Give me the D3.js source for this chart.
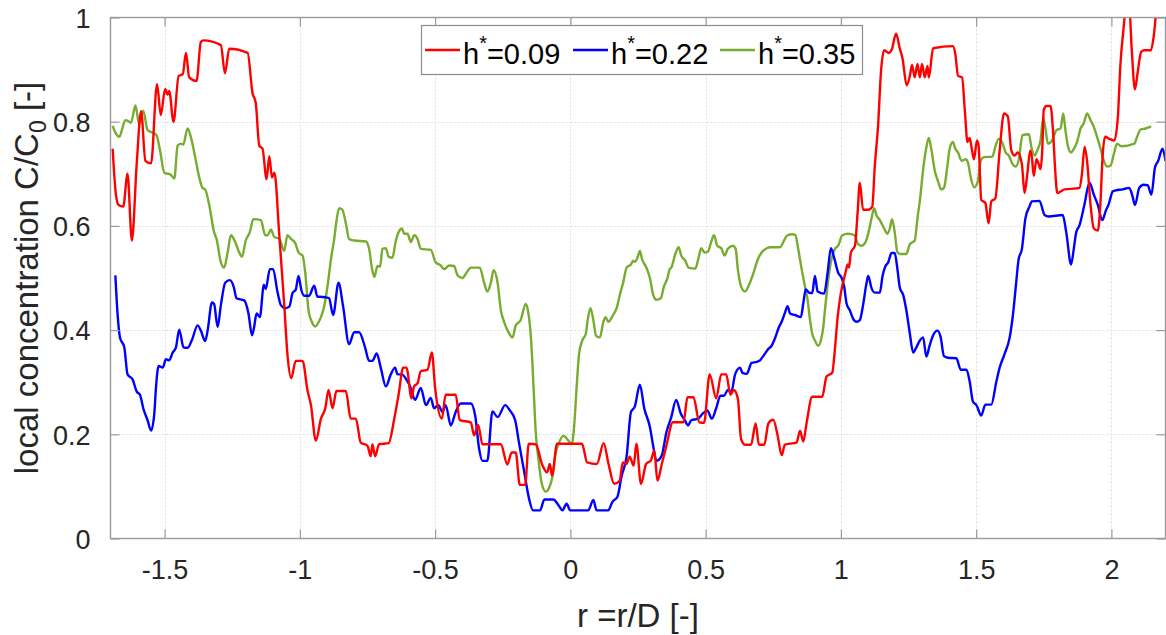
<!DOCTYPE html>
<html>
<head>
<meta charset="utf-8">
<script src="https://d3js.org/d3.v7.min.js"></script>
<style>
  body { margin: 0; background: #fff; }
  svg { display: block; font-family: "Liberation Sans", Arial, Helvetica, sans-serif; }
</style>
</head>
<body>
<svg id="chart" width="1166" height="635"></svg>
<script>
// local concentration profiles, [r/D, C/C0]
const red09 = [[-1.692,0.748],[-1.680,0.660],[-1.670,0.640],[-1.653,0.637],[-1.637,0.700],[-1.621,0.572],[-1.603,0.720],[-1.587,0.820],[-1.571,0.725],[-1.550,0.720],[-1.528,0.872],[-1.514,0.813],[-1.498,0.863],[-1.489,0.852],[-1.483,0.859],[-1.467,0.800],[-1.448,0.888],[-1.433,0.891],[-1.421,0.932],[-1.409,0.885],[-1.382,0.878],[-1.366,0.953],[-1.357,0.956],[-1.292,0.947],[-1.277,0.893],[-1.261,0.940],[-1.193,0.932],[-1.175,0.855],[-1.163,0.836],[-1.150,0.754],[-1.138,0.748],[-1.123,0.690],[-1.113,0.734],[-1.103,0.693],[-1.094,0.702],[-1.076,0.582],[-1.058,0.451],[-1.046,0.354],[-1.032,0.308],[-1.015,0.341],[-0.990,0.341],[-0.972,0.285],[-0.959,0.256],[-0.941,0.188],[-0.922,0.230],[-0.906,0.250],[-0.894,0.285],[-0.879,0.250],[-0.865,0.283],[-0.830,0.283],[-0.812,0.230],[-0.793,0.230],[-0.775,0.184],[-0.750,0.178],[-0.738,0.158],[-0.732,0.181],[-0.722,0.158],[-0.707,0.181],[-0.672,0.183],[-0.651,0.230],[-0.635,0.276],[-0.618,0.328],[-0.606,0.328],[-0.587,0.269],[-0.578,0.292],[-0.565,0.298],[-0.553,0.321],[-0.528,0.324],[-0.512,0.357],[-0.500,0.289],[-0.475,0.230],[-0.461,0.276],[-0.424,0.276],[-0.409,0.227],[-0.368,0.223],[-0.356,0.198],[-0.341,0.218],[-0.325,0.181],[-0.257,0.181],[-0.233,0.142],[-0.217,0.165],[-0.202,0.165],[-0.187,0.103],[-0.167,0.103],[-0.154,0.182],[-0.128,0.181],[-0.105,0.143],[-0.086,0.127],[-0.076,0.143],[-0.068,0.121],[-0.049,0.182],[0.043,0.182],[0.062,0.146],[0.098,0.143],[0.123,0.183],[0.141,0.143],[0.162,0.105],[0.182,0.111],[0.194,0.146],[0.207,0.143],[0.219,0.157],[0.234,0.140],[0.244,0.182],[0.261,0.105],[0.280,0.143],[0.298,0.150],[0.310,0.169],[0.322,0.111],[0.338,0.143],[0.354,0.176],[0.379,0.223],[0.418,0.223],[0.433,0.271],[0.455,0.271],[0.477,0.223],[0.494,0.222],[0.515,0.315],[0.539,0.269],[0.558,0.315],[0.576,0.315],[0.592,0.276],[0.604,0.285],[0.619,0.269],[0.631,0.191],[0.646,0.180],[0.668,0.180],[0.685,0.221],[0.697,0.180],[0.717,0.180],[0.732,0.221],[0.750,0.228],[0.766,0.198],[0.781,0.160],[0.793,0.180],[0.812,0.182],[0.836,0.184],[0.849,0.207],[0.861,0.186],[0.873,0.221],[0.894,0.272],[0.931,0.272],[0.947,0.311],[0.968,0.318],[0.978,0.364],[0.988,0.425],[1.000,0.471],[1.017,0.510],[1.025,0.526],[1.030,0.520],[1.037,0.549],[1.052,0.562],[1.062,0.627],[1.070,0.683],[1.082,0.631],[1.101,0.631],[1.116,0.637],[1.125,0.712],[1.138,0.797],[1.148,0.894],[1.160,0.937],[1.177,0.932],[1.189,0.940],[1.204,0.969],[1.218,0.940],[1.228,0.921],[1.243,0.870],[1.255,0.888],[1.263,0.909],[1.273,0.885],[1.283,0.911],[1.292,0.885],[1.300,0.911],[1.310,0.885],[1.320,0.907],[1.325,0.885],[1.341,0.941],[1.414,0.945],[1.423,0.930],[1.433,0.888],[1.448,0.885],[1.458,0.823],[1.468,0.761],[1.476,0.769],[1.482,0.754],[1.492,0.728],[1.503,0.764],[1.509,0.754],[1.519,0.650],[1.534,0.644],[1.546,0.605],[1.556,0.647],[1.571,0.653],[1.587,0.745],[1.603,0.816],[1.617,0.810],[1.630,0.745],[1.642,0.735],[1.654,0.741],[1.669,0.719],[1.679,0.663],[1.689,0.699],[1.700,0.745],[1.706,0.732],[1.713,0.696],[1.723,0.728],[1.731,0.719],[1.738,0.709],[1.744,0.741],[1.750,0.823],[1.760,0.830],[1.775,0.830],[1.784,0.784],[1.792,0.709],[1.800,0.663],[1.812,0.666],[1.827,0.670],[1.870,0.672],[1.882,0.673],[1.891,0.699],[1.901,0.752],[1.910,0.725],[1.923,0.640],[1.935,0.595],[1.950,0.591],[1.959,0.640],[1.968,0.738],[1.977,0.771],[1.993,0.767],[2.011,0.764],[2.024,0.810],[2.033,0.907],[2.045,0.979],[2.054,1.020],[2.066,1.020],[2.075,0.940],[2.087,0.862],[2.097,0.894],[2.110,0.934],[2.122,0.937],[2.146,0.937],[2.157,0.966],[2.169,1.020],[2.200,1.020]];

const blue22 = [[-1.682,0.505],[-1.674,0.432],[-1.665,0.386],[-1.649,0.367],[-1.637,0.315],[-1.618,0.305],[-1.603,0.282],[-1.591,0.276],[-1.579,0.250],[-1.563,0.227],[-1.550,0.207],[-1.538,0.240],[-1.532,0.289],[-1.522,0.331],[-1.507,0.328],[-1.495,0.344],[-1.483,0.342],[-1.470,0.357],[-1.458,0.367],[-1.446,0.401],[-1.430,0.367],[-1.415,0.366],[-1.399,0.381],[-1.378,0.409],[-1.366,0.399],[-1.350,0.379],[-1.341,0.399],[-1.325,0.453],[-1.317,0.450],[-1.304,0.406],[-1.292,0.448],[-1.276,0.491],[-1.259,0.496],[-1.245,0.484],[-1.234,0.461],[-1.206,0.457],[-1.190,0.432],[-1.177,0.390],[-1.169,0.406],[-1.160,0.432],[-1.148,0.425],[-1.133,0.487],[-1.126,0.479],[-1.111,0.517],[-1.099,0.517],[-1.083,0.474],[-1.070,0.448],[-1.054,0.442],[-1.039,0.445],[-1.027,0.471],[-1.015,0.478],[-1.005,0.504],[-0.995,0.478],[-0.984,0.466],[-0.966,0.466],[-0.947,0.485],[-0.935,0.464],[-0.926,0.464],[-0.906,0.463],[-0.892,0.461],[-0.877,0.429],[-0.857,0.491],[-0.840,0.445],[-0.818,0.373],[-0.799,0.396],[-0.781,0.396],[-0.759,0.367],[-0.744,0.341],[-0.732,0.341],[-0.716,0.355],[-0.701,0.328],[-0.682,0.292],[-0.664,0.315],[-0.648,0.328],[-0.639,0.315],[-0.623,0.315],[-0.606,0.305],[-0.590,0.289],[-0.574,0.266],[-0.553,0.289],[-0.534,0.256],[-0.516,0.270],[-0.504,0.250],[-0.488,0.256],[-0.473,0.243],[-0.461,0.256],[-0.442,0.217],[-0.424,0.243],[-0.405,0.259],[-0.368,0.259],[-0.352,0.236],[-0.337,0.171],[-0.325,0.149],[-0.307,0.149],[-0.288,0.244],[-0.269,0.233],[-0.241,0.256],[-0.224,0.246],[-0.204,0.227],[-0.190,0.184],[-0.171,0.129],[-0.153,0.077],[-0.138,0.054],[-0.112,0.054],[-0.096,0.075],[-0.063,0.075],[-0.044,0.064],[-0.029,0.054],[-0.014,0.067],[-0.001,0.054],[0.066,0.054],[0.085,0.074],[0.097,0.054],[0.140,0.054],[0.155,0.070],[0.174,0.080],[0.189,0.119],[0.208,0.158],[0.224,0.243],[0.238,0.253],[0.257,0.295],[0.273,0.250],[0.294,0.214],[0.306,0.178],[0.318,0.149],[0.337,0.158],[0.355,0.204],[0.373,0.233],[0.391,0.266],[0.408,0.240],[0.423,0.227],[0.435,0.217],[0.447,0.227],[0.472,0.230],[0.490,0.240],[0.506,0.246],[0.523,0.230],[0.539,0.250],[0.555,0.274],[0.568,0.274],[0.582,0.285],[0.595,0.282],[0.609,0.315],[0.627,0.328],[0.636,0.318],[0.652,0.316],[0.670,0.337],[0.689,0.339],[0.701,0.342],[0.713,0.350],[0.732,0.364],[0.744,0.370],[0.759,0.388],[0.771,0.406],[0.781,0.416],[0.793,0.433],[0.803,0.446],[0.812,0.432],[0.830,0.429],[0.852,0.425],[0.861,0.451],[0.870,0.478],[0.882,0.472],[0.894,0.471],[0.904,0.504],[0.914,0.474],[0.938,0.470],[0.951,0.510],[0.963,0.557],[0.975,0.539],[0.990,0.510],[1.003,0.500],[1.012,0.484],[1.021,0.451],[1.033,0.438],[1.045,0.422],[1.058,0.416],[1.070,0.419],[1.082,0.448],[1.095,0.491],[1.101,0.504],[1.113,0.481],[1.125,0.472],[1.144,0.472],[1.154,0.504],[1.165,0.523],[1.175,0.530],[1.187,0.548],[1.199,0.548],[1.209,0.517],[1.218,0.481],[1.230,0.468],[1.242,0.438],[1.255,0.393],[1.267,0.357],[1.279,0.367],[1.292,0.380],[1.304,0.386],[1.316,0.349],[1.328,0.370],[1.341,0.390],[1.357,0.399],[1.369,0.386],[1.381,0.350],[1.396,0.347],[1.427,0.346],[1.443,0.324],[1.464,0.324],[1.476,0.302],[1.488,0.263],[1.501,0.256],[1.519,0.236],[1.534,0.257],[1.556,0.257],[1.575,0.302],[1.587,0.328],[1.605,0.354],[1.624,0.386],[1.636,0.429],[1.648,0.491],[1.657,0.536],[1.669,0.555],[1.682,0.614],[1.697,0.637],[1.706,0.647],[1.734,0.648],[1.753,0.621],[1.768,0.618],[1.820,0.621],[1.833,0.588],[1.851,0.526],[1.861,0.556],[1.870,0.588],[1.882,0.601],[1.900,0.640],[1.919,0.683],[1.935,0.660],[1.950,0.640],[1.966,0.611],[1.980,0.630],[1.989,0.640],[2.005,0.666],[2.016,0.668],[2.041,0.670],[2.066,0.673],[2.078,0.657],[2.087,0.640],[2.103,0.673],[2.119,0.679],[2.134,0.678],[2.148,0.660],[2.161,0.712],[2.173,0.725],[2.189,0.748],[2.200,0.725]];

const green35 = [[-1.692,0.792],[-1.682,0.779],[-1.667,0.771],[-1.658,0.784],[-1.645,0.803],[-1.637,0.802],[-1.624,0.798],[-1.608,0.831],[-1.594,0.795],[-1.579,0.821],[-1.563,0.784],[-1.544,0.779],[-1.530,0.774],[-1.517,0.745],[-1.501,0.702],[-1.477,0.698],[-1.464,0.691],[-1.452,0.754],[-1.440,0.758],[-1.431,0.756],[-1.415,0.787],[-1.403,0.771],[-1.387,0.732],[-1.372,0.693],[-1.360,0.673],[-1.350,0.670],[-1.335,0.640],[-1.317,0.588],[-1.308,0.575],[-1.292,0.530],[-1.280,0.520],[-1.267,0.549],[-1.255,0.582],[-1.239,0.569],[-1.224,0.549],[-1.214,0.541],[-1.200,0.572],[-1.185,0.588],[-1.172,0.613],[-1.144,0.611],[-1.128,0.582],[-1.119,0.582],[-1.107,0.593],[-1.095,0.579],[-1.076,0.575],[-1.058,0.552],[-1.046,0.582],[-1.033,0.575],[-1.017,0.567],[-1.005,0.549],[-0.990,0.543],[-0.980,0.510],[-0.968,0.438],[-0.956,0.416],[-0.943,0.407],[-0.931,0.415],[-0.922,0.425],[-0.910,0.446],[-0.897,0.487],[-0.885,0.536],[-0.873,0.575],[-0.865,0.608],[-0.855,0.634],[-0.843,0.631],[-0.830,0.605],[-0.818,0.575],[-0.799,0.572],[-0.756,0.570],[-0.744,0.556],[-0.734,0.520],[-0.725,0.502],[-0.713,0.523],[-0.703,0.522],[-0.695,0.556],[-0.682,0.557],[-0.672,0.541],[-0.658,0.539],[-0.645,0.572],[-0.633,0.590],[-0.623,0.595],[-0.614,0.585],[-0.602,0.585],[-0.590,0.569],[-0.577,0.582],[-0.565,0.575],[-0.553,0.556],[-0.516,0.554],[-0.498,0.530],[-0.479,0.524],[-0.467,0.517],[-0.448,0.524],[-0.430,0.523],[-0.417,0.505],[-0.399,0.500],[-0.384,0.510],[-0.368,0.520],[-0.335,0.520],[-0.319,0.491],[-0.307,0.474],[-0.294,0.491],[-0.284,0.515],[-0.269,0.491],[-0.257,0.438],[-0.245,0.416],[-0.229,0.396],[-0.214,0.386],[-0.202,0.409],[-0.184,0.419],[-0.165,0.450],[-0.155,0.432],[-0.145,0.380],[-0.136,0.289],[-0.128,0.204],[-0.118,0.152],[-0.106,0.106],[-0.091,0.090],[-0.079,0.097],[-0.066,0.119],[-0.054,0.165],[-0.042,0.184],[-0.026,0.197],[-0.007,0.188],[0.005,0.181],[0.015,0.223],[0.023,0.289],[0.032,0.354],[0.044,0.380],[0.057,0.393],[0.064,0.419],[0.074,0.442],[0.085,0.419],[0.095,0.389],[0.109,0.386],[0.122,0.416],[0.130,0.425],[0.140,0.416],[0.158,0.429],[0.171,0.442],[0.183,0.468],[0.195,0.491],[0.208,0.520],[0.224,0.526],[0.232,0.533],[0.238,0.531],[0.248,0.539],[0.257,0.552],[0.265,0.536],[0.281,0.520],[0.294,0.500],[0.306,0.468],[0.318,0.458],[0.334,0.461],[0.346,0.484],[0.359,0.500],[0.367,0.517],[0.373,0.520],[0.388,0.546],[0.400,0.559],[0.410,0.543],[0.425,0.533],[0.437,0.520],[0.462,0.518],[0.474,0.539],[0.484,0.557],[0.496,0.549],[0.509,0.551],[0.521,0.570],[0.531,0.582],[0.543,0.562],[0.558,0.557],[0.570,0.543],[0.582,0.556],[0.601,0.562],[0.611,0.556],[0.619,0.517],[0.631,0.484],[0.646,0.474],[0.658,0.484],[0.677,0.510],[0.693,0.536],[0.707,0.549],[0.726,0.557],[0.738,0.559],[0.775,0.559],[0.793,0.575],[0.803,0.582],[0.820,0.584],[0.832,0.582],[0.842,0.556],[0.855,0.517],[0.867,0.484],[0.877,0.458],[0.886,0.419],[0.894,0.393],[0.904,0.380],[0.916,0.370],[0.926,0.380],[0.935,0.406],[0.941,0.438],[0.951,0.487],[0.963,0.530],[0.978,0.556],[0.990,0.562],[1.005,0.582],[1.027,0.585],[1.050,0.582],[1.064,0.565],[1.076,0.562],[1.091,0.569],[1.101,0.585],[1.113,0.614],[1.123,0.634],[1.131,0.621],[1.144,0.611],[1.160,0.595],[1.172,0.585],[1.181,0.595],[1.189,0.613],[1.199,0.588],[1.209,0.549],[1.221,0.546],[1.242,0.546],[1.255,0.565],[1.273,0.572],[1.283,0.614],[1.293,0.653],[1.304,0.708],[1.316,0.751],[1.325,0.769],[1.335,0.745],[1.347,0.706],[1.359,0.686],[1.371,0.670],[1.381,0.673],[1.393,0.712],[1.402,0.748],[1.414,0.761],[1.423,0.748],[1.433,0.741],[1.446,0.725],[1.462,0.728],[1.471,0.719],[1.480,0.693],[1.493,0.674],[1.505,0.683],[1.517,0.725],[1.529,0.732],[1.560,0.733],[1.572,0.754],[1.584,0.767],[1.597,0.759],[1.609,0.741],[1.621,0.735],[1.634,0.719],[1.646,0.714],[1.658,0.728],[1.671,0.774],[1.695,0.776],[1.704,0.752],[1.716,0.735],[1.726,0.745],[1.738,0.764],[1.748,0.807],[1.757,0.784],[1.765,0.758],[1.781,0.764],[1.797,0.784],[1.812,0.787],[1.822,0.816],[1.830,0.784],[1.839,0.754],[1.851,0.741],[1.861,0.748],[1.873,0.761],[1.886,0.787],[1.898,0.797],[1.910,0.816],[1.923,0.803],[1.935,0.790],[1.947,0.771],[1.960,0.748],[1.972,0.725],[1.984,0.714],[1.997,0.716],[2.009,0.738],[2.021,0.758],[2.036,0.753],[2.085,0.758],[2.095,0.771],[2.108,0.785],[2.126,0.787],[2.147,0.791]];

const seriesNames = ["0.09", "0.22", "0.35"];
const seriesColors = ["#ff0000", "#0000ff", "#77ac30"];
const xTicks = [-1.5, -1, -0.5, 0, 0.5, 1, 1.5, 2];
const xTickLabels = ["-1.5", "-1", "-0.5", "0", "0.5", "1", "1.5", "2"];
const yTicks = [0, 0.2, 0.4, 0.6, 0.8, 1];
const yTickLabels = ["0", "0.2", "0.4", "0.6", "0.8", "1"];

const svg = d3.select("#chart");
const plotL = 110.5, plotR = 1165.5, plotT = 17.5, plotB = 538.5;

const x = d3.scaleLinear().domain([-1.7, 2.2]).range([plotL, plotR]);
const y = d3.scaleLinear().domain([0, 1]).range([plotB, plotT]);

// grid
const grid = svg.append("g").attr("stroke", "#dedede").attr("stroke-width", 1).attr("stroke-dasharray", "2,2");
grid.selectAll(".gx").data(xTicks).join("line")
  .attr("x1", d => Math.round(x(d)) + 0.5).attr("x2", d => Math.round(x(d)) + 0.5)
  .attr("y1", plotT).attr("y2", plotB);
grid.selectAll(".gy").data(yTicks.slice(1, -1)).join("line")
  .attr("y1", d => Math.round(y(d)) + 0.5).attr("y2", d => Math.round(y(d)) + 0.5)
  .attr("x1", plotL).attr("x2", plotR);

// clip for the curves
svg.append("clipPath").attr("id", "plotclip")
  .append("rect").attr("x", plotL).attr("y", plotT).attr("width", plotR - plotL).attr("height", plotB - plotT);

const line = d3.line()
  .x(d => x(d[0]))
  .y(d => y(d[1]))
  .curve(d3.curveMonotoneX);

const series = [green35, blue22, red09];
const seriesColorsDraw = [seriesColors[2], seriesColors[1], seriesColors[0]];

svg.append("g").attr("clip-path", "url(#plotclip)")
  .selectAll("path").data(series).join("path")
  .attr("d", line)
  .attr("fill", "none")
  .attr("stroke", (d, i) => seriesColorsDraw[i])
  .attr("stroke-width", 2.4)
  .attr("stroke-linejoin", "round");

// axes (MATLAB style: ticks inside, box on)
const tickLen = 9;
const axisColor = "#9a9a9a";
const labelColor = "#262626";

const xAxis = d3.axisBottom(x).tickValues(xTicks).tickFormat((d, i) => xTickLabels[i])
  .tickSizeInner(-tickLen).tickSizeOuter(0).tickPadding(21);
const gx = svg.append("g").attr("transform", `translate(0,${plotB})`).call(xAxis);

const xTop = d3.axisTop(x).tickValues(xTicks).tickFormat("").tickSizeInner(-tickLen).tickSizeOuter(0);
const gxt = svg.append("g").attr("transform", `translate(0,${plotT})`).call(xTop);

const yAxis = d3.axisLeft(y).tickValues(yTicks).tickFormat((d, i) => yTickLabels[i])
  .tickSizeInner(-tickLen).tickSizeOuter(0).tickPadding(20);
const gy = svg.append("g").attr("transform", `translate(${plotL},0)`).call(yAxis);

const yRight = d3.axisRight(y).tickValues(yTicks).tickFormat("").tickSizeInner(-tickLen).tickSizeOuter(0);
const gyr = svg.append("g").attr("transform", `translate(${plotR},0)`).call(yRight);

[gx, gxt, gy, gyr].forEach(g => {
  g.select(".domain").remove();
  g.selectAll(".tick line").attr("stroke", axisColor).attr("stroke-width", 1.2);
  g.selectAll(".tick text").attr("fill", labelColor).style("font-size", "27px")
    .style("font-family", "'Liberation Sans', Arial, sans-serif");
});
gx.selectAll(".tick text").attr("dy", "0.71em");
gy.selectAll(".tick text").attr("dy", "0.36em");

svg.append("rect")
  .attr("x", plotL).attr("y", plotT).attr("width", plotR - plotL).attr("height", plotB - plotT)
  .attr("fill", "none").attr("stroke", axisColor).attr("stroke-width", 1.4);

// axis labels
svg.append("text")
  .attr("x", (plotL + plotR) / 2).attr("y", 627)
  .attr("text-anchor", "middle").attr("fill", labelColor).style("font-size", "33px")
  .text("r =r/D [-]");

const yl = svg.append("text")
  .attr("transform", `translate(38,${(plotT + plotB) / 2}) rotate(-90)`)
  .attr("text-anchor", "middle").attr("fill", labelColor).style("font-size", "33px");
yl.append("tspan").text("local concentration C/C");
yl.append("tspan").attr("dy", 8).style("font-size", "23px").text("0");
yl.append("tspan").attr("dy", -8).text(" [-]");

// legend
const lg = svg.append("g");
lg.append("rect").attr("x", 421.5).attr("y", 25.5).attr("width", 441).attr("height", 49)
  .attr("fill", "#fff").attr("stroke", "#8c8c8c").attr("stroke-width", 1.2);
const legendX = [425, 573, 720];
seriesNames.forEach((name, i) => {
  lg.append("line").attr("x1", legendX[i]).attr("x2", legendX[i] + 35)
    .attr("y1", 50).attr("y2", 50)
    .attr("stroke", seriesColors[i]).attr("stroke-width", 2.4);
  const t = lg.append("text").attr("x", legendX[i] + 38).attr("y", 64)
    .attr("fill", "#000").style("font-size", "29px");
  t.append("tspan").text("h");
  t.append("tspan").attr("dy", -14).style("font-size", "20px").text("*");
  t.append("tspan").attr("dy", 14).text("=" + name);
});
</script>
</body>
</html>
